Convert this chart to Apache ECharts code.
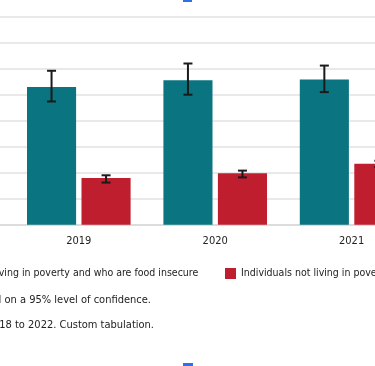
<!DOCTYPE html>
<html>
<head>
<meta charset="utf-8">
<script src="https://cdn.jsdelivr.net/npm/echarts@6/dist/echarts.min.js"></script>
<style>
html,body{margin:0;padding:0;background:#fff;overflow:hidden;width:375px;height:366px;}
#wrap{position:relative;width:375px;height:366px;overflow:hidden;}
#chart{position:absolute;left:-200px;top:0;width:800px;height:366px;}
</style>
</head>
<body>
<div id="wrap"><div id="chart"></div></div>
<script>
// Data (off-screen categories left empty)
var categories = ['2018', '2019', '2020', '2021', '2022'];
var seriesNames = ['Individuals living in poverty and who are food insecure', 'Individuals not living in poverty'];
var povertyValues = [null, 26.5, 27.8, 27.9, null];
var povertyLow = [null, 23.7, 25.0, 25.5, null];
var povertyHigh = [null, 29.6, 31.0, 30.6, null];
var notPovertyValues = [null, 9.0, 9.9, 11.7, null];
var notPovertyLow = [null, 8.1, 9.1, 11.1, null];
var notPovertyHigh = [null, 9.5, 10.4, 12.3, null];
var yTicks = [0, 5, 10, 15, 20, 25, 30, 35, 40];
var notes = [
  'Note: Error bars are based on a 95% level of confidence.',
  'Source: Statistics Canada, Canadian Income Survey, 2018 to 2022. Custom tabulation.'
];

var OX = 200; // container offset (chart div starts 200px left of the window)
var FAMILY = '"DejaVu Sans Condensed", "Liberation Sans Narrow", sans-serif';
var FS = 10.5;
var NOTE_FS = 11;
var TEAL = '#0a7480';
var RED = '#bf1e2e';
var BAR_W = 0.36, BAR_GAP = 0.11;

function textWidth(t) {
  var c = document.createElement('canvas').getContext('2d');
  c.font = FS + 'px ' + FAMILY;
  return c.measureText(t).width;
}

function errData(low, high) {
  return categories.map(function (c, i) {
    return low[i] == null ? null : [i, low[i], high[i]];
  }).filter(function (d) { return d; });
}

function errRender(sign) {
  return function (params, api) {
    var band = api.size([1, 0])[0];
    var off = sign * band * (BAR_W / 2 + BAR_W * BAR_GAP / 2);
    var lo = api.coord([api.value(0), api.value(1)]);
    var hi = api.coord([api.value(0), api.value(2)]);
    var x = lo[0] + off;
    var cap = 4.5;
    var st = { stroke: '#1a1a1a', lineWidth: 2 };
    return {
      type: 'group',
      children: [
        { type: 'line', shape: { x1: x, y1: lo[1], x2: x, y2: hi[1] }, style: st },
        { type: 'line', shape: { x1: x - cap, y1: lo[1], x2: x + cap, y2: lo[1] }, style: st },
        { type: 'line', shape: { x1: x - cap, y1: hi[1], x2: x + cap, y2: hi[1] }, style: st }
      ]
    };
  };
}

// legend: first text ends at x≈193, second marker starts at x≈220
var legendLeft = OX + 193.3 - textWidth(seriesNames[0]) - 5 - 11;

var chart = echarts.init(document.getElementById('chart'));
chart.setOption({
  animation: false,
  backgroundColor: '#ffffff',
  grid: { left: OX - 125.8, width: 682, top: 16.7, height: 208 },
  legend: {
    data: seriesNames.map(function (n) { return { name: n, icon: 'rect' }; }),
    left: legendLeft, top: 263,
    itemWidth: 11, itemHeight: 11, itemGap: 26.7,
    textStyle: { fontFamily: FAMILY, fontSize: FS, color: '#222' }
  },
  xAxis: {
    type: 'category',
    data: categories,
    axisTick: { show: false },
    axisLine: { lineStyle: { color: '#d8d8d8', width: 1.5 } },
    axisLabel: { fontFamily: FAMILY, fontSize: 11, color: '#222', margin: 11 }
  },
  yAxis: {
    type: 'value',
    min: yTicks[0], max: yTicks[yTicks.length - 1], interval: yTicks[1] - yTicks[0],
    axisLabel: { show: false },
    axisLine: { show: false }, axisTick: { show: false },
    splitLine: { lineStyle: { color: '#e2e2e2', width: 1.5 } }
  },
  series: [
    {
      name: seriesNames[0], type: 'bar', data: povertyValues,
      barWidth: (BAR_W * 100) + '%', barGap: (BAR_GAP * 100) + '%',
      itemStyle: { color: TEAL }
    },
    {
      name: seriesNames[1], type: 'bar', data: notPovertyValues,
      barWidth: (BAR_W * 100) + '%', barGap: (BAR_GAP * 100) + '%',
      itemStyle: { color: RED }
    },
    {
      type: 'custom', renderItem: errRender(-1), data: errData(povertyLow, povertyHigh),
      encode: { x: 0, y: [1, 2] }, z: 5, silent: true
    },
    {
      type: 'custom', renderItem: errRender(1), data: errData(notPovertyLow, notPovertyHigh),
      encode: { x: 0, y: [1, 2] }, z: 5, silent: true
    }
  ],
  graphic: [
    { type: 'text', x: OX + 151, y: 300, style: { text: notes[0], font: NOTE_FS + 'px ' + FAMILY, fill: '#222', align: 'right', verticalAlign: 'middle' } },
    { type: 'text', x: OX + 154, y: 325, style: { text: notes[1], font: NOTE_FS + 'px ' + FAMILY, fill: '#222', align: 'right', verticalAlign: 'middle' } },
    { type: 'rect', shape: { x: OX + 183, y: 0, width: 9, height: 2 }, style: { fill: '#2f6fe8' } },
    { type: 'rect', shape: { x: OX + 183, y: 363, width: 10, height: 3 }, style: { fill: '#2f6fe8' } }
  ]
});
</script>
</body>
</html>
